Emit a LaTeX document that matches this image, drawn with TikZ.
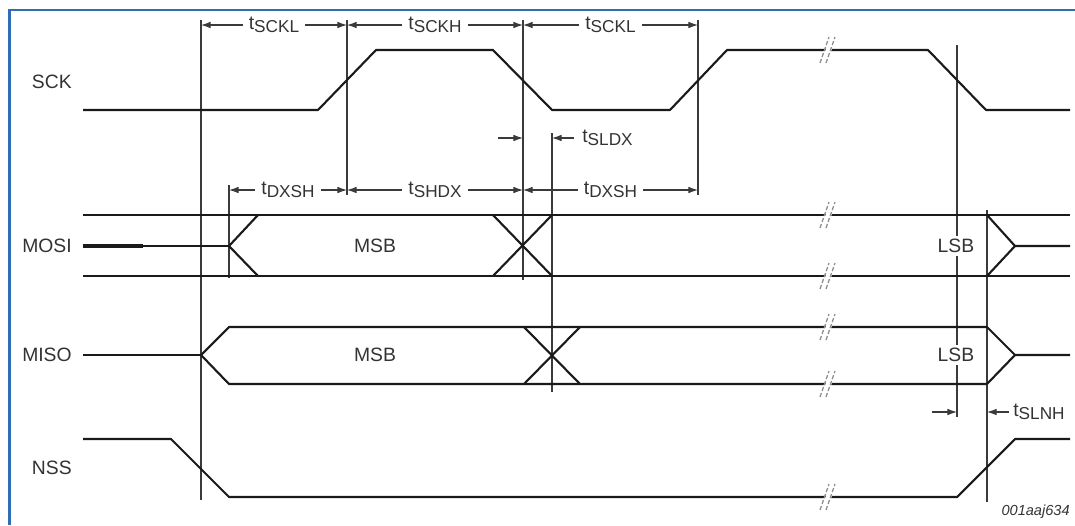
\documentclass[tikz,border=0pt]{standalone}
\usepackage{fontspec}
\setmainfont{Liberation Sans}
\usepackage{tikz}
\usetikzlibrary{arrows.meta}
\definecolor{frame}{HTML}{2F6DB5}
\definecolor{ink}{HTML}{1A1A1A}
\definecolor{txt}{HTML}{333333}
\definecolor{guide}{HTML}{3A3A3A}
\definecolor{brkc}{HTML}{8C8C8C}
\tikzset{
  sig/.style={draw=ink, line width=1.2pt, line join=round},
  sigthin/.style={draw=ink, line width=0.7pt},
  sigbold/.style={draw=ink, line width=2pt},
  guideline/.style={draw=guide, line width=0.6pt},
  dim/.style={draw=guide, line width=0.6pt, {Latex[length=5.5pt,width=3.8pt]}-{Latex[length=5.5pt,width=3.8pt]}},
  dimr/.style={draw=guide, line width=0.6pt, -{Latex[length=5.5pt,width=3.8pt]}},
  tlab/.style={fill=white, text=txt, inner xsep=3.5pt, inner ysep=1pt, font=\fontsize{11}{13}\selectfont},
  lab/.style={text=txt, inner sep=0pt, font=\fontsize{11}{13}\selectfont},
  brkline/.style={draw=brkc, line width=0.7pt, dash pattern=on 2.4pt off 1.2pt},
  framebar/.style={draw=frame, line width=1.7pt},
}
\newcommand{\tm}[1]{t\raisebox{-2pt}{\fontsize{9.8}{10}\selectfont #1}}
% break mark "//" across a signal
\newcommand{\brkmark}[2]{%
  \fill[white] (#1-5,#2+13) -- (#1+1,#2+13) -- (#1+10,#2-13) -- (#1+4,#2-13) -- cycle;
  \draw[brkline] (#1-6,#2+13) -- (#1+3,#2-13);
  \draw[brkline] (#1,#2+13) -- (#1+9,#2-13);
}

\begin{document}
\begin{tikzpicture}[x=0.02cm, y=-0.02cm]
  \useasboundingbox (0,0) rectangle (1075,525);
  \draw[framebar] (9.5,525) -- (9.5,10) -- (1075,10);

  % signal names
  \node[lab, anchor=east] (sck)  at (72,82)  {SCK};
  \node[lab, anchor=east] (mosi) at (72,246) {MOSI};
  \node[lab, anchor=east] (miso) at (72,355) {MISO};
  \node[lab, anchor=east] (nss)  at (72,468) {NSS};

  % guide lines
  \draw[guideline] (201,20) -- (201,500);
  \draw[guideline] (347,20) -- (347,195);
  \draw[guideline] (523,20) -- (523,280);
  \draw[guideline] (698,20) -- (698,195);
  \draw[guideline] (552,133) -- (552,392);
  \draw[guideline] (957,45) -- (957,417);
  \draw[guideline] (987,210) -- (987,502);
  \draw[guideline] (229,185) -- (229,278);

  % SCK
  \draw[sig] (83,110) -- (318,110) -- (376,50) -- (493,50) -- (552,110)
    -- (670,110) -- (727,50) -- (928,50) -- (986,110) -- (1070,110);

  % MOSI
  \draw[sig] (83,215) -- (1070,215);
  \draw[sig] (83,276) -- (1070,276);
  \draw[sigbold] (83,246) -- (143,246);
  \draw[sigthin] (143,246) -- (229,246);
  \draw[sig] (258,215) -- (229,246) -- (258,276);
  \draw[sig] (493,215) -- (552,276) (493,276) -- (552,215);
  \draw[sig] (987,215) -- (1015,246) -- (987,276) (1015,246) -- (1070,246);

  % MISO
  \draw[sigthin] (83,355) -- (201,355);
  \draw[sig] (987,327) -- (229,327) -- (201,355) -- (229,384) -- (987,384);
  \draw[sig] (524,327) -- (580,384) (524,384) -- (580,327);
  \draw[sig] (987,327) -- (1015,355) -- (987,384) (1015,355) -- (1070,355);

  % NSS
  \draw[sig] (83,439) -- (171,439) -- (229,497) -- (957,497) -- (1015,439) -- (1070,439);

  \foreach \y in {50,215,276,327,384,497} {\brkmark{826}{\y}}

  % data labels
  \node[lab] (msb1) at (375,246) {MSB};
  \node[lab] (msb2) at (375,355) {MSB};
  \node[lab, fill=white, inner ysep=2pt] (lsb1) at (956,246) {LSB};
  \node[lab, fill=white, inner ysep=2pt] (lsb2) at (956,355) {LSB};

  % timing marks
  \foreach \n/\x in {1/201,2/347,3/523,4/698}
    \coordinate (top\n) at (\x,25);
  \foreach \n/\x in {1/229,2/347,3/523,4/698}
    \coordinate (mid\n) at (\x,190);
  \draw[dim] (top1) -- node[tlab] (tsckl1) {\tm{SCKL}} (top2);
  \draw[dim] (top2) -- node[tlab] (tsckh) {\tm{SCKH}} (top3);
  \draw[dim] (top3) -- node[tlab] (tsckl2) {\tm{SCKL}} (top4);
  \draw[dim] (mid1) -- node[tlab] (tdxsh1) {\tm{DXSH}} (mid2);
  \draw[dim] (mid2) -- node[tlab] (tshdx) {\tm{SHDX}} (mid3);
  \draw[dim] (mid3) -- node[tlab] (tdxsh2) {\tm{DXSH}} (mid4);

  \coordinate (sa) at (498,138);
  \coordinate (sb) at (523,138);
  \coordinate (sc) at (552,138);
  \coordinate (sd) at (574,138);
  \draw[dimr] (sa) -- (sb);
  \draw[dimr] (sd) -- (sc);
  \node[lab, anchor=west] (tsldx) at (582,138) {\tm{SLDX}};

  \coordinate (na) at (932,412);
  \coordinate (nb) at (957,412);
  \coordinate (nc) at (987,412);
  \coordinate (nd) at (1009,412);
  \draw[dimr] (na) -- (nb);
  \draw[dimr] (nd) -- (nc);
  \node[lab, anchor=west] (tslnh) at (1013,412) {\tm{SLNH}};

  \node[lab, anchor=east, font=\fontsize{8.3}{10}\selectfont\itshape] (figid) at (1070,512) {001aaj634};
\end{tikzpicture}
\end{document}
